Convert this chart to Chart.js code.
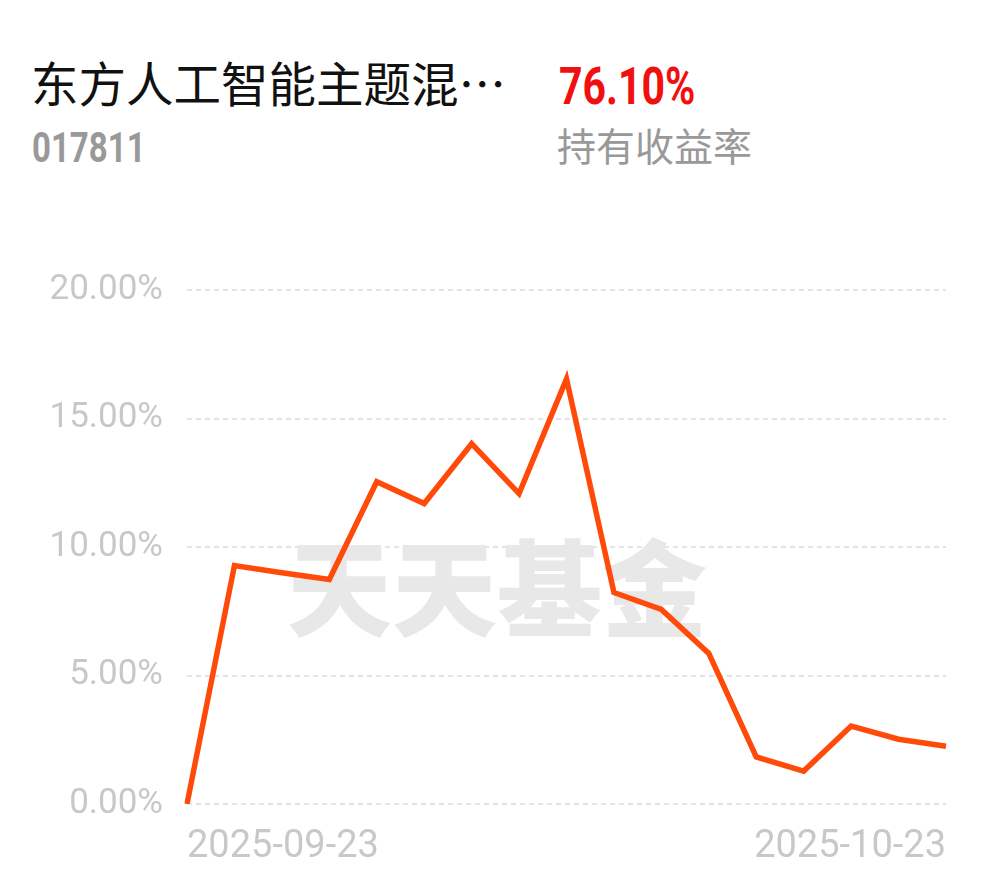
<!DOCTYPE html>
<html>
<head>
<meta charset="utf-8">
<script src="https://cdn.jsdelivr.net/npm/chart.js@4"></script>
<style>
  body { margin: 0; background: #fff; width: 990px; height: 878px; overflow: hidden; position: relative; font-family: Roboto, "Noto Sans CJK SC", sans-serif; }
  .t { position: absolute; white-space: nowrap; line-height: 1; }
  #name { left: 31px; top: 58px; font-size: 47.5px; color: #111; font-family: "Noto Sans CJK SC", sans-serif; }
  #code { left: 32px; top: 126px; font-size: 33px; font-weight: bold; color: #999; transform: scaleY(1.27); transform-origin: left top; }
  #ret { left: 559px; top: 61px; font-size: 41px; font-weight: bold; color: #f01010; transform: scaleY(1.25); transform-origin: left top; }
  #lbl { left: 557px; top: 125px; font-size: 39px; color: #999; font-family: "Noto Sans CJK SC", sans-serif; }
  #wrap { position: absolute; left: 0; top: 245px; width: 990px; height: 633px; }
</style>
</head>
<body>
<div class="t" id="name">东方人工智能主题混…</div>
<div class="t" id="code">017811</div>
<div class="t" id="ret">76.10%</div>
<div class="t" id="lbl">持有收益率</div>
<div id="wrap"><canvas id="myChart"></canvas></div>
<script>
const dates = [
  "2025-09-23", "2025-09-24", "2025-09-25", "2025-09-26", "2025-09-29", "2025-09-30",
  "2025-10-09", "2025-10-10", "2025-10-13", "2025-10-14", "2025-10-15", "2025-10-16",
  "2025-10-17", "2025-10-20", "2025-10-21", "2025-10-22", "2025-10-23",
];
const returns = [0, 9.28, 9.0, 8.74, 12.54, 11.69, 14.02, 12.08, 16.54, 8.23, 7.57, 5.86, 1.83, 1.28, 3.03, 2.52, 2.25];
const yTicks = [0, 5, 10, 15, 20];

const watermark = {
  id: "watermark",
  beforeDatasetsDraw(chart) {
    const { ctx } = chart;
    ctx.save();
    ctx.font = "900 105px 'Noto Sans CJK SC'";
    ctx.fillStyle = "#e8e8e8";
    ctx.textAlign = "center";
    ctx.textBaseline = "middle";
    ctx.fillText("天天基金", 497, 343);
    ctx.restore();
  },
};

const canvasArea = document.getElementById("myChart").getContext("2d");
const myChart = new Chart(canvasArea, {
  type: "line",
  data: {
    labels: dates,
    datasets: [{
      data: returns,
      borderColor: "#ff4a0a",
      borderWidth: 5.5,
      pointRadius: 0,
      tension: 0,
      fill: false,
    }],
  },
  options: {
    responsive: true,
    maintainAspectRatio: false,
    animation: false,
    layout: { padding: { left: 0, right: 44, top: 34, bottom: 0 } },
    plugins: { legend: { display: false }, tooltip: { enabled: false } },
    scales: {
      x: {
        grid: { display: false, drawTicks: false },
        border: { display: false },
        afterFit(scale) { scale.height = 74; },
        ticks: {
          autoSkip: false,
          maxRotation: 0,
          align: "inner",
          padding: 21,
          color: "#c8c8c8",
          font: { family: "Roboto", size: 38 },
          callback(v, i) { return (i === 0 || i === dates.length - 1) ? dates[i] : ""; },
        },
      },
      y: {
        min: 0,
        max: 20,
        afterFit(scale) { scale.width = 187; },
        afterBuildTicks(scale) { scale.ticks = yTicks.map(v => ({ value: v })); },
        border: { display: false, dash: [5, 4] },
        grid: { color: "#e4e4e4", lineWidth: 2, drawTicks: false },
        ticks: {
          padding: 24,
          color: "#c8c8c8",
          font: { family: "Roboto", size: 35 },
          callback(v) { return v.toFixed(2) + "%"; },
        },
      },
    },
  },
  plugins: [watermark],
});
</script>
</body>
</html>
